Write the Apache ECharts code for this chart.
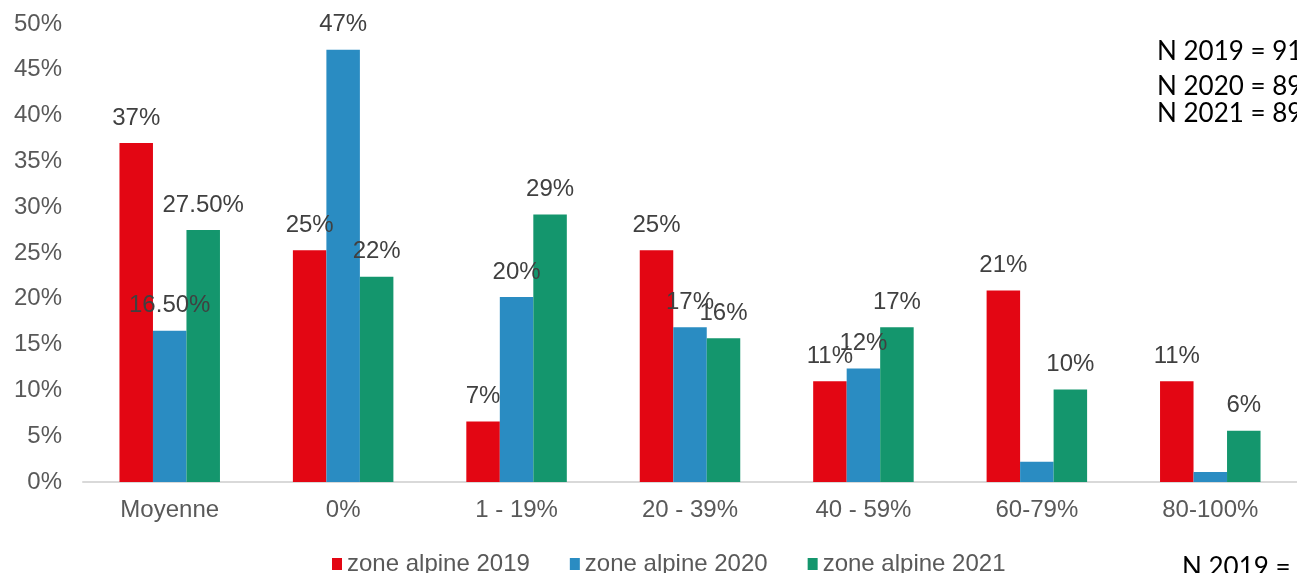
<!DOCTYPE html>
<html>
<head>
<meta charset="utf-8">
<script src="https://cdn.jsdelivr.net/npm/echarts@6/dist/echarts.min.js"></script>
<style>
  html, body { margin: 0; padding: 0; background: #ffffff; }
  #chart { width: 1297px; height: 573px; }
</style>
</head>
<body>
<div id="chart"></div>
<script>
// Répartition par tranche, zone alpine (valeurs en %)
const categories = ['Moyenne', '0%', '1 - 19%', '20 - 39%', '40 - 59%', '60-79%', '80-100%'];
const seriesNames = ['zone alpine 2019', 'zone alpine 2020', 'zone alpine 2021'];
const values2019 = [37, 25.3, 6.6, 25.3, 11.0, 20.9, 11.0];
const values2020 = [16.5, 47.2, 20.2, 16.9, 12.4, 2.2, 1.1];
const values2021 = [27.5, 22.4, 29.2, 15.7, 16.9, 10.1, 5.6];
// bars whose value is not printed: [series index, category index]
const unlabelled = [[1, 5], [1, 6]];
const yTicks = { min: 0, max: 50, interval: 5 };
const sampleSizes = ['N 2019 = 91', 'N 2020 = 89', 'N 2021 = 89'];
const footNote = 'N 2019 = 1';

const colors = ['#e30613', '#2a8cc2', '#14966d'];
const allValues = [values2019, values2020, values2021];
const textFont = '"Liberation Sans", Arial, sans-serif';

function labelText(seriesIdx, catIdx, v) {
  for (const [s, c] of unlabelled) {
    if (s === seriesIdx && c === catIdx) return '';
  }
  if (catIdx === 0) {
    return Number.isInteger(v) ? v + '%' : v.toFixed(2) + '%';
  }
  return Math.round(v) + '%';
}

const chart = echarts.init(document.getElementById('chart'), null, { renderer: 'canvas' });

const series = allValues.map((vals, si) => ({
  name: seriesNames[si],
  type: 'bar',
  data: vals,
  barWidth: 33.5,
  barGap: '0%',
  itemStyle: { color: colors[si] },
  label: {
    show: true,
    position: 'top',
    distance: 13,
    fontFamily: textFont,
    fontSize: 24,
    color: '#404040',
    formatter: p => labelText(si, p.dataIndex, p.value)
  },
  emphasis: { disabled: true },
  animation: false
}));

const nText = (txt, x, y) => ({
  type: 'text',
  left: x,
  top: y,
  style: {
    text: txt,
    fill: '#000000',
    font: '26px Lato, "Noto Sans", sans-serif'
  }
});

chart.setOption({
  animation: false,
  backgroundColor: '#ffffff',
  color: colors,
  grid: { left: 83, right: -4, top: 24, bottom: 91, containLabel: false },
  legend: {
    data: seriesNames,
    left: 327,
    top: 547,
    itemWidth: 10,
    itemHeight: 12,
    itemGap: 40,
    icon: 'rect',
    textStyle: {
      fontFamily: textFont,
      fontSize: 24,
      color: '#595959'
    },
    selectedMode: false
  },
  xAxis: {
    type: 'category',
    data: categories,
    axisLine: { show: true, lineStyle: { color: '#d9d9d9', width: 2 } },
    axisTick: { show: false },
    axisLabel: {
      margin: 16,
      fontFamily: textFont,
      fontSize: 24,
      color: '#595959'
    }
  },
  yAxis: {
    type: 'value',
    min: yTicks.min,
    max: yTicks.max,
    interval: yTicks.interval,
    axisLine: { show: false },
    axisTick: { show: false },
    splitLine: { show: false },
    axisLabel: {
      margin: 21,
      fontFamily: textFont,
      fontSize: 24,
      color: '#595959',
      formatter: '{value}%'
    }
  },
  series: series,
  graphic: [
    nText(sampleSizes[0], 1157, 39),
    nText(sampleSizes[1], 1157, 74),
    nText(sampleSizes[2], 1157, 101),
    nText(footNote, 1182, 555)
  ]
});
</script>
</body>
</html>
